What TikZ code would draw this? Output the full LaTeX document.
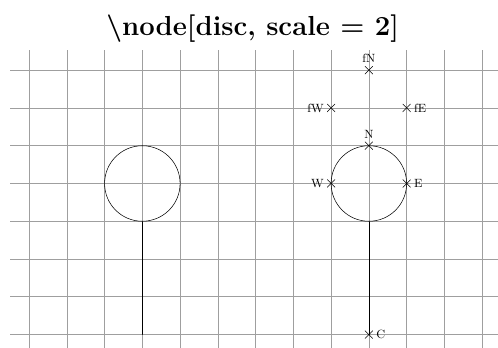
\documentclass[tikz,border=0pt]{standalone}
\usetikzlibrary{shapes.misc}
\begin{document}
\begin{tikzpicture}[line join=round,line cap=round,
    disc/.style={circle,draw,minimum size=2cm,inner sep=0pt},
    xmark/.style={cross out,draw,minimum size=5.5pt,inner sep=0pt},
    lbl/.style={font=\small,inner sep=2.5pt}]
		\useasboundingbox (-0.77,-0.34) rectangle (12.42,8.86);
		\draw[gray!75,line cap=butt] (-0.5,-0.5) grid (12.5,7.53);
		\node[font=\huge\bfseries] (title) at (5.92,8.1) {\textbackslash node[disc, scale = 2]};
		% plain disc
		\node[disc] (L) at (3,4) {};
		\coordinate (Lfoot) at (3,0);
		\draw (L.south) -- (Lfoot);
		% disc with its anchors
		\node[disc] (R) at (9,4) {};
		\coordinate (C) at (9,0);
		\draw (R.south) -- (C);
		\foreach \p/\x/\y in {N/9/5,W/8/4,E/10/4,fN/9/7,fW/8/6,fE/10/6,C/9/0}
			\node[xmark] (m\p) at (\x,\y) {};
		\foreach \p in {N,fN} \node[lbl,above] at (m\p.north) {\p};
		\foreach \p in {W,fW} \node[lbl,left] at (m\p.west) {\p};
		\foreach \p in {E,fE,C} \node[lbl,right] at (m\p.east) {\p};
	\end{tikzpicture}
\end{document}
